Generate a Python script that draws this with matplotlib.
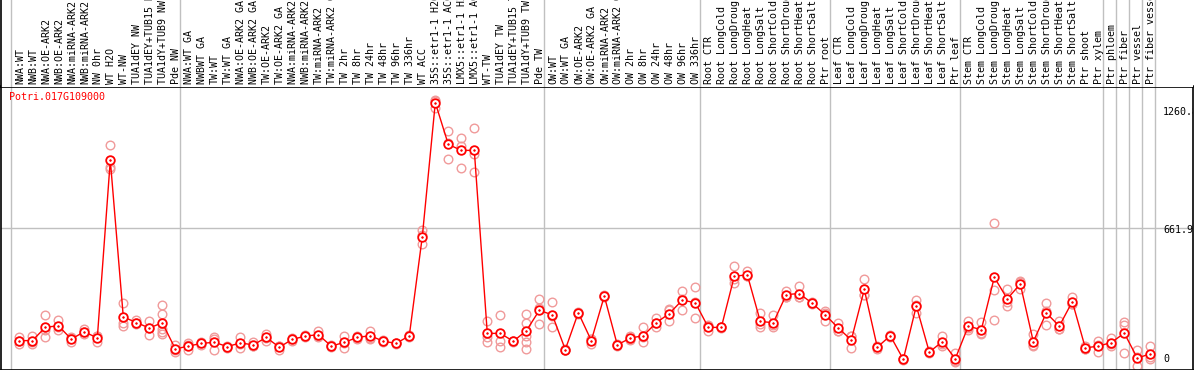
import matplotlib
matplotlib.use("Agg")
import matplotlib.pyplot as plt
import matplotlib.transforms as mtransforms

# ---------------- data ----------------
gene = "Potri.017G109000"

samples = [
    "NWA:WT", "NWB:WT", "NWA:OE-ARK2", "NWB:OE-ARK2", "NWA:miRNA-ARK2", "NWB:miRNA-ARK2",
    "NW 0hr", "WT H2O", "WT-NW", "TUA1dEY NW", "TUA1dEY+TUB15 NW", "TUA1dY+TUB9 NW", "Pde NW",
    "NWA:WT GA", "NWBWT GA", "TW:WT", "TW:WT GA", "NWA:OE-ARK2 GA", "NWB:OE-ARK2 GA",
    "TW:OE-ARK2", "TW:OE-ARK2 GA", "NWA:miRNA-ARK2 GA", "NWB:miRNA-ARK2 GA", "TW:miRNA-ARK2",
    "TW:miRNA-ARK2 GA", "TW 2hr", "TW 8hr", "TW 24hr", "TW 48hr", "TW 96hr", "TW 336hr",
    "WT ACC", "35S::etr1-1 H2O", "35S::etr1-1 ACC", "LMX5::etr1-1 H2O", "LMX5::etr1-1 ACC",
    "WT-TW", "TUA1dEY TW", "TUA1dEY+TUB15 TW", "TUA1dY+TUB9 TW", "Pde TW",
    "OW:WT", "OW:WT GA", "OW:OE-ARK2", "OW:OE-ARK2 GA", "OW:miRNA-ARK2", "OW:miRNA-ARK2 GA",
    "OW 2hr", "OW 8hr", "OW 24hr", "OW 48hr", "OW 96hr", "OW 336hr",
    "Root CTR", "Root LongCold", "Root LongDrought", "Root LongHeat", "Root LongSalt",
    "Root ShortCold", "Root ShortDrought", "Root ShortHeat", "Root ShortSalt", "Ptr root",
    "Leaf CTR", "Leaf LongCold", "Leaf LongDrought", "Leaf LongHeat", "Leaf LongSalt",
    "Leaf ShortCold", "Leaf ShortDrought", "Leaf ShortHeat", "Leaf ShortSalt", "Ptr leaf",
    "Stem CTR", "Stem LongCold", "Stem LongDrought", "Stem LongHeat", "Stem LongSalt",
    "Stem ShortCold", "Stem ShortDrought", "Stem ShortHeat", "Stem ShortSalt", "Ptr shoot",
    "Ptr xylem", "Ptr phloem", "Ptr fiber", "Ptr vessel", "Ptr fiber vessel",
]

# index of the first sample of each group (group separators)
group_starts = [0, 13, 41, 53, 63, 73, 84, 85, 86, 87, 88]

means = [
    131, 131, 193, 201, 138, 173, 143, 978, 242, 216, 190, 215, 92,
    105, 118, 123, 103, 120, 111, 146, 100, 137, 152, 159, 105, 123, 146, 154, 128, 118,
    154, 619, 1248, 1052, 1024, 1024, 165, 165, 128, 177, 273,
    252, 89, 262, 131, 340, 111, 143, 154, 215, 258, 321, 309,
    193, 193, 433, 440, 221, 215, 347, 352, 306, 252,
    190, 134, 371, 100, 154, 43, 294, 77, 126, 46,
    199, 182, 428, 327, 397, 126, 261, 199, 314, 97, 105,
    122, 166, 49, 69,
]

replicates = [
    [150, 115, 128], [154, 115, 125], [252, 146, 182], [227, 180, 196], [146, 123, 145],
    [185, 162, 172], [154, 123, 152], [1047, 944, 936], [309, 216, 201], [227, 208, 213],
    [221, 159, 190], [298, 255, 185, 171, 162], [112, 77, 88],
    [118, 87, 110], [123, 112, 119], [146, 85, 138], [103, 98, 108], [146, 97, 117],
    [123, 104, 106], [162, 131, 145], [108, 85, 107], [137, 130, 144], [152, 148, 156],
    [174, 150, 153], [105, 100, 110], [154, 95, 120], [154, 140, 144], [177, 145, 140],
    [128, 124, 132], [118, 114, 122],
    [154, 150, 158], [649, 583, 625], [1260.8, 1258, 1225], [1114, 982, 1060],
    [1083, 1044, 939], [1130, 921, 1006], [224, 123, 148], [252, 131, 103], [128, 125, 131],
    [255, 216, 154, 123, 92], [327, 208, 284],
    [312, 196, 248], [89, 86, 92], [262, 258, 266], [115, 140, 138], [340, 336, 344],
    [111, 108, 114], [154, 136, 139], [193, 123, 146], [239, 193, 213], [278, 221, 275],
    [363, 273, 327], [382, 235, 310],
    [177, 200, 202], [193, 190, 196], [479, 402, 418], [456, 432, 432], [262, 193, 208],
    [250, 193, 202], [366, 338, 337], [386, 335, 335], [306, 302, 310], [270, 224, 262],
    [216, 177, 177], [154, 97, 151], [420, 347, 346], [108, 92, 100], [154, 150, 158],
    [43, 40, 46], [320, 262, 300], [77, 74, 80], [154, 108, 116], [72, 30, 36],
    [224, 190, 183], [219, 162, 165], [684, 368, 229], [375, 294, 312], [413, 371, 407],
    [162, 112, 104], [309, 205, 269], [224, 186, 187], [337, 303, 302], [108, 92, 91],
    [128, 77, 110], [143, 108, 115], [219, 73, 206], [85, 10, 52], [105, 46, 56],
]

y_max_label = "1260.8"
y_mid_label = "661.9"
y_zero_label = "0"

# ---------------- layout ----------------
W, H = 1194, 370
RED = "#ff0000"
PINK = "#f09a9a"
GRID = "#c0c0c0"
FONT = "DejaVu Sans Mono"
FS = 7.2

vmax = max(max(r) for r in replicates)
top = 1.05 * vmax
mid = top / 2.0

fig = plt.figure(figsize=(W / 100, H / 100), dpi=100)
fig.patch.set_facecolor("white")

x0_px, x1_px = 1.0, 1193.0
plot_top_px = 86.5
ax = fig.add_axes([x0_px / W, 0.0, (x1_px - x0_px) / W, (H - plot_top_px) / H])
axl = fig.add_axes([x0_px / W, (H - plot_top_px) / H, (x1_px - x0_px) / W, plot_top_px / H])

# x: column centres at 19.3 + 13*i px
col0_px, step_px = 19.3, 13.0
xlim = ((x0_px - col0_px) / step_px, (x1_px - col0_px) / step_px)
for a in (ax, axl):
    a.set_xlim(*xlim)
    a.set_xticks([])
    a.set_yticks([])

# y: zero sits 1.5 px below the figure bottom
px_per_unit = (H + 1.5 - plot_top_px) / top
ax.set_ylim(-1.5 / px_per_unit, top)
axl.set_ylim(0, 1)

for s in ax.spines.values():
    s.set_color("black")
    s.set_linewidth(1.2)
axl.spines["left"].set_linewidth(1.2)
axl.spines["right"].set_visible(False)
axl.spines["top"].set_visible(False)
axl.spines["bottom"].set_visible(False)

# separators
for k in group_starts:
    for a in (ax, axl):
        a.axvline(k - 0.64, color=GRID, lw=1.0, zorder=1)
ax.axhline(mid, color=GRID, lw=1.0, zorder=1)

# replicates
for i, reps in enumerate(replicates):
    ax.plot([i] * len(reps), reps, linestyle="none", marker="o", ms=6.2,
            mfc="none", mec=PINK, mew=1.0, zorder=2, clip_on=True)

xs = list(range(len(means)))
ax.plot(xs, means, color=RED, lw=1.0, zorder=3)
ax.plot(xs, means, linestyle="none", marker="o", ms=6.2, mfc="white",
        mec=RED, mew=1.3, zorder=4)
ax.plot(xs, means, linestyle="none", marker="o", ms=1.2, mfc=RED,
        mec=RED, mew=0.5, zorder=5)

# sample labels
for i, name in enumerate(samples):
    axl.text(i + 0.05, 2.5 / plot_top_px, name, rotation=90, ha="center", va="bottom",
             family=FONT, fontsize=FS, color="black", clip_on=True)

# gene name
ax.text((9.3 - x0_px) / (x1_px - x0_px), (H - 96.7) / (H - plot_top_px), gene,
        transform=ax.transAxes, ha="left", va="center", family=FONT, fontsize=FS,
        color=RED)

# value labels at right
xl = (1163 - col0_px) / step_px
def ylab(val, txt, dy):
    tr = mtransforms.offset_copy(ax.transData, fig=fig, x=0, y=dy, units="dots")
    ax.text(xl, val, txt, transform=tr, ha="left", va="center", family=FONT,
            fontsize=FS, color="black", clip_on=True)

ylab(vmax, y_max_label, -12.0)
ylab(mid, y_mid_label, -2.7)
ylab(0, y_zero_label, 9.2)

fig.savefig("out.png", dpi=100, facecolor="white")
